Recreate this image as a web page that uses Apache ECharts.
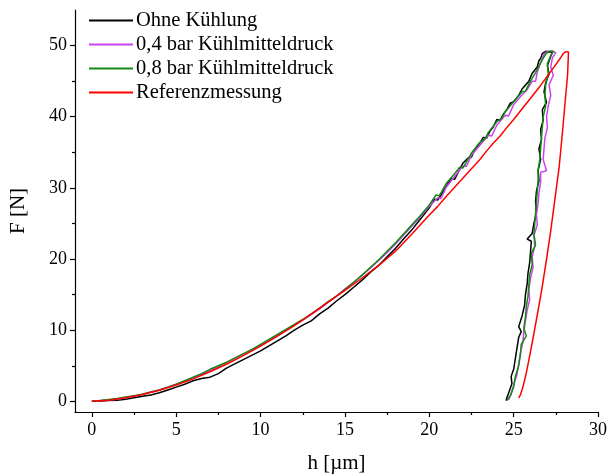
<!DOCTYPE html>
<html>
<head>
<meta charset="utf-8">
<script src="https://cdn.jsdelivr.net/npm/echarts@6/dist/echarts.min.js"></script>
<style>html,body{margin:0;padding:0;background:#fff}#c{width:608px;height:474px}</style>
</head>
<body>
<div id="c"></div>
<script>
// Series names (legend)
var seriesNames = ['Ohne Kühlung', '0,4 bar Kühlmitteldruck', '0,8 bar Kühlmitteldruck', 'Referenzmessung'];

// Tick values
var xMajorTicks = [0, 5, 10, 15, 20, 25, 30];
var xMinorTicks = [2.5, 7.5, 12.5, 17.5, 22.5, 27.5];
var yMajorTicks = [0, 10, 20, 30, 40, 50];
var yMinorTicks = [5, 15, 25, 35, 45];

// Data [h (µm), F (N)]
var ohneKuehlung = [
  [0,0],[0.5,0.05],[1,0.1],[1.5,0.15],[2,0.3],[2.5,0.5],[3,0.7],[3.5,0.9],[4,1.2],[4.5,1.6],[5,2.0],[5.5,2.4],[6,2.9],[6.5,3.2],[7,3.4],[7.5,3.9],[8,4.7],[8.5,5.3],[9,5.9],[9.5,6.5],[10,7.1],[10.5,7.8],[11,8.5],[11.5,9.2],[12,10.0],[12.5,10.7],[13,11.3],[13.5,12.3],[14,13.1],[14.5,14.1],[15,15.0],[15.5,16.0],[16,17.0],[16.5,18.1],[17,19.1],[17.5,20.3],[18,21.5],[18.5,22.9],[19,24.2],[19.5,25.7],[20,27.2],[20.3,28.4],[20.5,28.3],[20.8,29.4],[21,30.2],[21.3,31.3],[21.5,31.2],[21.8,32.6],[22,33.5],[22.3,34.2],[22.5,34.3],[22.7,35.4],[23,36.3],[23.2,37.1],[23.4,37.0],[23.6,38.0],[23.8,38.6],[24.0,39.6],[24.2,39.5],[24.4,40.4],[24.6,41.0],[24.8,41.9],[25,42.1],[25.3,43.0],[25.5,43.9],[25.6,43.7],[25.9,45.0],[26.1,46.1],[26.2,45.9],[26.4,47.0],[26.5,47.9],[26.6,48.2],[26.7,48.9],[26.9,49.2],[27.1,49.1],[27.3,49.1],
  [27.2,48.5],[27.0,47.2],[27.1,46.0],[26.9,44.8],[26.8,43.5],[26.95,42.0],[26.7,41.0],[26.75,39.5],[26.6,38.2],[26.65,36.8],[26.5,35.5],[26.6,34.0],[26.45,32.5],[26.5,31.0],[26.35,29.5],[26.3,28.0],[26.35,26.5],[26.2,25.0],[26.1,23.6],[25.8,22.8],[26.05,22.5],[26.0,21.0],[25.95,19.5],[25.85,18.0],[25.8,16.5],[25.7,15.0],[25.65,13.5],[25.5,12.0],[25.3,10.5],[25.45,9.8],[25.3,9.0],[25.2,7.5],[25.1,6.0],[25.0,4.5],[24.85,3.5],[24.9,2.5],[24.75,1.5],[24.6,0.5],[24.55,0.1]
];
var bar04 = [
  [0,0],[0.5,0.1],[1,0.2],[1.5,0.3],[2,0.5],[2.5,0.7],[3,1.0],[3.5,1.3],[4,1.6],[4.5,2.0],[5,2.4],[5.5,2.8],[6,3.3],[6.5,3.8],[7,4.3],[7.5,4.9],[8,5.5],[8.5,6.1],[9,6.7],[9.5,7.3],[10,7.9],[10.5,8.6],[11,9.3],[11.5,10.0],[12,10.7],[12.5,11.4],[13,12.2],[13.5,13.0],[14,13.9],[14.5,14.8],[15,15.8],[15.5,16.7],[16,17.7],[16.5,18.7],[17,19.8],[17.5,20.9],[18,22.1],[18.5,23.4],[19,24.7],[19.5,26.0],[20,27.4],[20.5,28.6],[20.7,28.5],[21,30.1],[21.5,31.6],[22,33.1],[22.2,33.0],[22.5,34.6],[23,36.0],[23.5,37.4],[23.7,37.3],[24,38.8],[24.5,40.2],[24.7,40.1],[25,41.7],[25.5,43.1],[25.8,43.8],[26.1,45.0],[26.3,45.0],[26.4,46.3],[26.6,47.6],[26.8,48.8],[27.0,49.2],[27.3,49.2],[27.5,49.0],
  [27.3,48.3],[27.2,47.0],[27.35,45.8],[27.1,44.5],[27.2,43.0],[27.05,41.5],[26.95,40.0],[27.0,38.5],[26.85,37.0],[26.8,35.5],[26.75,34.0],[26.95,32.4],[26.6,32.2],[26.6,30.8],[26.5,29.3],[26.45,27.8],[26.35,26.3],[26.4,24.8],[26.2,23.3],[26.25,21.8],[26.1,20.3],[26.15,18.8],[26.0,17.3],[25.9,15.8],[25.95,14.3],[25.8,12.8],[25.7,11.3],[25.6,9.8],[25.55,8.3],[25.4,6.8],[25.3,5.3],[25.2,3.8],[25.0,2.3],[24.85,1.0],[24.7,0.2]
];
var bar08 = [
  [0,0],[0.5,0.1],[1,0.25],[1.5,0.4],[2,0.6],[2.5,0.8],[3,1.0],[3.5,1.3],[4,1.6],[4.5,2.0],[5,2.4],[5.5,2.9],[6,3.4],[6.5,3.9],[7,4.5],[7.5,5.0],[8,5.5],[8.5,6.1],[9,6.7],[9.5,7.3],[10,8.0],[10.5,8.7],[11,9.4],[11.5,10.1],[12,10.8],[12.5,11.5],[13,12.3],[13.5,13.1],[14,14.0],[14.5,14.8],[15,15.7],[15.5,16.7],[16,17.7],[16.5,18.8],[17,19.9],[17.5,21.1],[18,22.3],[18.5,23.6],[19,24.9],[19.5,26.2],[20,27.6],[20.4,29.0],[20.6,28.9],[21,30.6],[21.5,32.0],[21.8,32.9],[22,32.8],[22.5,34.9],[23,36.4],[23.3,36.9],[23.5,37.8],[24,39.3],[24.3,39.8],[24.5,40.7],[25,42.1],[25.5,43.5],[25.7,43.6],[26,45.0],[26.3,46.2],[26.6,47.6],[26.9,48.8],[27.1,49.2],[27.35,49.2],
  [27.2,48.6],[27.0,47.5],[27.05,46.0],[26.9,44.5],[26.85,43.0],[26.9,41.5],[26.75,40.0],[26.7,38.5],[26.65,37.0],[26.6,35.5],[26.55,34.0],[26.45,32.5],[26.45,31.0],[26.4,29.5],[26.35,28.0],[26.3,26.5],[26.25,25.0],[26.2,23.5],[26.3,22.0],[26.05,20.8],[26.1,19.2],[25.95,17.8],[25.9,16.3],[25.85,14.8],[25.75,13.3],[25.7,11.8],[25.6,10.3],[25.75,9.2],[25.45,8.0],[25.4,6.5],[25.3,5.0],[25.1,3.5],[25.0,2.0],[24.8,0.8],[24.6,0.1]
];
var referenz = [
  [0,0],[1,0.15],[2,0.5],[3,0.95],[4,1.55],[5,2.3],[6,3.15],[7,4.15],[8,5.25],[9,6.45],[10,7.75],[11,9.15],[12,10.65],[13,12.25],[14,13.95],[15,15.6],[16,17.3],[17,19.1],[18,21.1],[19,23.6],[20,26.2],[20.5,27.4],[21,28.8],[21.5,30.1],[22,31.4],[22.5,32.7],[23,34.0],[23.4,35.2],[23.8,36.3],[24.2,37.3],[24.6,38.5],[25,39.6],[25.4,40.8],[25.8,42.0],[26.2,43.2],[26.6,44.4],[27,45.7],[27.4,47.0],[27.7,48.0],[27.95,48.9],[28.1,49.15],[28.25,49.1],
  [28.2,46],[28.05,42],[27.9,38],[27.7,33],[27.45,28.5],[27.2,24],[26.95,20],[26.7,16.2],[26.45,12.8],[26.2,9.5],[25.95,6.4],[25.75,4.0],[25.55,2.0],[25.4,0.9],[25.3,0.5]
];

var colors = ['#000000', '#cc44ee', '#128a12', '#ff0000'];
var seriesData = [ohneKuehlung, bar04, bar08, referenz];
var FONT = '"Liberation Serif", "Times New Roman", serif';

var chart = echarts.init(document.getElementById('c'), null, {renderer: 'canvas'});
var series = seriesNames.map(function (n, i) {
  return {
    name: n, type: 'line', data: seriesData[i], showSymbol: false, symbol: 'none',
    smooth: false, lineStyle: {color: colors[i], width: 1.5}, itemStyle: {color: colors[i]},
    xAxisIndex: 0, yAxisIndex: 0, animation: false, z: 2 + i
  };
});

chart.setOption({
  animation: false,
  backgroundColor: '#fff',
  grid: {left: 75, right: 10, top: 10, bottom: 62, containLabel: false, outerBoundsMode: 'none'},
  legend: {
    left: 84, top: 5, orient: 'vertical', itemGap: 3, itemWidth: 44, itemHeight: 2,
    icon: 'rect',
    textStyle: {fontFamily: FONT, fontSize: 20.5, color: '#000', padding: [0, 0, 0, -2]},
    data: seriesNames
  },
  xAxis: [{
    type: 'value', min: -1, max: 30,
    name: 'h [µm]', nameLocation: 'middle', nameGap: 41,
    nameTextStyle: {fontFamily: FONT, fontSize: 21, color: '#000'},
    axisLine: {show: true, onZero: false, lineStyle: {color: '#000', width: 1.2}},
    axisTick: {show: true, length: 5, customValues: xMajorTicks, lineStyle: {color: '#000', width: 1.2}},
    axisLabel: {customValues: xMajorTicks, fontFamily: FONT, fontSize: 18, color: '#000', margin: 9},
    splitLine: {show: false}
  }, {
    type: 'value', min: -1, max: 30, position: 'bottom',
    axisLine: {show: false, onZero: false},
    axisTick: {show: true, length: 3, customValues: xMinorTicks, lineStyle: {color: '#000', width: 1.2}},
    axisLabel: {show: false}, splitLine: {show: false}
  }],
  yAxis: [{
    type: 'value', min: -1.5, max: 55,
    name: 'F [N]', nameLocation: 'middle', nameGap: 46, nameRotate: 90,
    nameTextStyle: {fontFamily: FONT, fontSize: 21, color: '#000'},
    axisLine: {show: true, onZero: false, lineStyle: {color: '#000', width: 1.2}},
    axisTick: {show: true, length: 5, customValues: yMajorTicks, lineStyle: {color: '#000', width: 1.2}},
    axisLabel: {customValues: yMajorTicks, fontFamily: FONT, fontSize: 18, color: '#000', margin: 8},
    splitLine: {show: false}
  }, {
    type: 'value', min: -1.5, max: 55, position: 'left',
    axisLine: {show: false, onZero: false},
    axisTick: {show: true, length: 3, customValues: yMinorTicks, lineStyle: {color: '#000', width: 1.2}},
    axisLabel: {show: false}, splitLine: {show: false}
  }],
  series: series
});
</script>
</body>
</html>
